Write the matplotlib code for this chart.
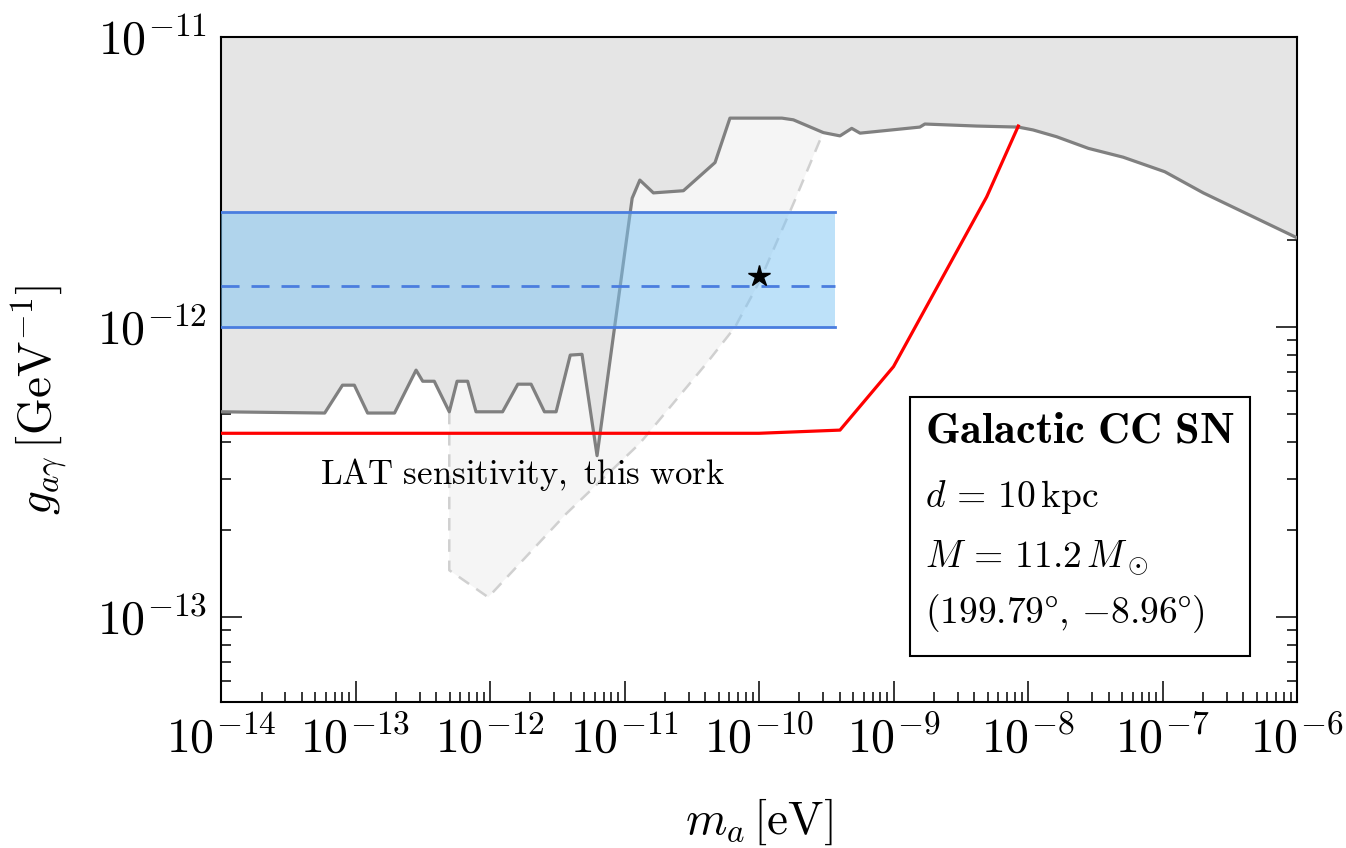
import numpy as np
import matplotlib
matplotlib.use("Agg")
import matplotlib.pyplot as plt
from matplotlib.ticker import LogLocator, NullFormatter

plt.rcParams['mathtext.fontset'] = 'cm'
plt.rcParams['font.family'] = 'serif'
plt.rcParams['font.serif'] = ['cmr10', 'DejaVu Serif']
plt.rcParams['axes.formatter.use_mathtext'] = True

# existing bound (grey region), m_a [eV] vs g_agamma [GeV^-1]
bound_m = [1e-14, 5.9e-14, 8.0e-14, 9.8e-14, 1.23e-13, 1.95e-13, 2.82e-13, 3.16e-13,
           3.85e-13, 4.98e-13, 5.69e-13, 6.82e-13, 7.87e-13, 1.24e-12, 1.61e-12,
           2.02e-12, 2.54e-12, 3.10e-12, 3.95e-12, 4.83e-12, 6.25e-12, 1.14e-11,
           1.30e-11, 1.64e-11, 2.74e-11, 4.71e-11, 6.08e-11, 1.48e-10, 1.80e-10,
           3.01e-10, 4.00e-10, 4.89e-10, 5.64e-10, 1.57e-9, 1.71e-9, 4.16e-9,
           8.47e-9, 1.09e-8, 1.63e-8, 2.81e-8, 5.10e-8, 1.04e-7, 2.01e-7, 1e-6]
bound_g = [5.1e-13, 5.05e-13, 6.3e-13, 6.3e-13, 5.05e-13, 5.05e-13, 7.1e-13, 6.5e-13,
           6.5e-13, 5.1e-13, 6.5e-13, 6.5e-13, 5.1e-13, 5.1e-13, 6.35e-13,
           6.35e-13, 5.1e-13, 5.1e-13, 8.0e-13, 8.05e-13, 3.6e-13, 2.78e-12,
           3.21e-12, 2.9e-12, 2.95e-12, 3.69e-12, 5.25e-12, 5.25e-12, 5.18e-12,
           4.68e-12, 4.56e-12, 4.84e-12, 4.66e-12, 4.89e-12, 5.01e-12, 4.93e-12,
           4.89e-12, 4.78e-12, 4.53e-12, 4.13e-12, 3.85e-12, 3.43e-12, 2.9e-12, 2.03e-12]

# LAT sensitivity, this work (light grey dashed region)
lat_m = [4.98e-13, 4.98e-13, 9.7e-13, 3.72e-12, 1.30e-11, 4.08e-11, 6.64e-11,
         1.02e-10, 1.85e-10, 2.99e-10]
lat_g = [5.1e-13, 1.45e-13, 1.17e-13, 2.28e-13, 3.97e-13, 7.5e-13, 1.0e-12,
         1.45e-12, 2.74e-12, 4.67e-12]

# SN sensitivity (red)
sn_m = [1e-14, 1e-10, 4.0e-10, 1e-9, 4.93e-9, 8.47e-9]
sn_g = [4.3e-13, 4.3e-13, 4.41e-13, 7.3e-13, 2.81e-12, 4.93e-12]

# preferred band
band_m = [1e-14, 3.67e-10]
band_lo, band_mid, band_hi = 1.0e-12, 1.38e-12, 2.5e-12

star_m, star_g = 1e-10, 1.5e-12

xmin, xmax = 1e-14, 1e-6
ymin, ymax = 10**-13.293, 1e-11

fig = plt.figure(figsize=(13.46, 8.48), dpi=100)
ax = fig.add_axes([0.1642, 0.1722, 0.7994, 0.7842])

ax.fill(lat_m + [lat_m[-1], lat_m[0]], lat_g + [ymax, ymax], color='#f5f5f5', lw=0, zorder=1)
ax.plot(lat_m, lat_g, color='#d0d0d0', lw=1.8, ls=(0, (5, 3.5)), zorder=1.5)

ax.fill_between(bound_m, bound_g, ymax, color='#e5e5e5', lw=0, zorder=2)
ax.plot(bound_m, bound_g, color='#808080', lw=2.3, zorder=3)

ax.fill_between(band_m, band_lo, band_hi, color='#7cc4f4', alpha=0.5, lw=0, zorder=4)
bc = '#4a7ddf'
ax.plot(band_m, [band_lo, band_lo], color=bc, lw=2, zorder=5)
ax.plot(band_m, [band_hi, band_hi], color=bc, lw=2, zorder=5)
ax.plot(band_m, [band_mid, band_mid], color=bc, lw=2, ls=(0, (6.5, 4.3)), zorder=5)

ax.plot(sn_m, sn_g, color='red', lw=2.3, zorder=6)
ax.plot([star_m], [star_g], marker='*', color='black', ms=16, ls='none', zorder=7)

ax.set_xscale('log')
ax.set_yscale('log')
ax.set_xlim(xmin, xmax)
ax.set_ylim(ymin, ymax)

ax.xaxis.set_major_locator(LogLocator(base=10, numticks=20))
ax.xaxis.set_minor_locator(LogLocator(base=10, subs=np.arange(2, 10), numticks=20))
ax.xaxis.set_minor_formatter(NullFormatter())
ax.yaxis.set_major_locator(LogLocator(base=10, numticks=20))
ax.yaxis.set_minor_locator(LogLocator(base=10, subs=np.arange(2, 10), numticks=20))
ax.yaxis.set_minor_formatter(NullFormatter())

ax.tick_params(which='both', direction='in', top=True, right=True, width=1.1)
ax.tick_params(which='major', length=15, labelsize=34.5, pad=10)
ax.tick_params(which='minor', length=7.5)
for s in ax.spines.values():
    s.set_linewidth(1.5)

ax.set_xlabel(r'$m_a\,[\mathrm{eV}]$', fontsize=34)
ax.set_ylabel(r'$g_{a\gamma}\,[\mathrm{GeV}^{-1}]$', fontsize=34)
ax.xaxis.set_label_coords(0.5, -0.142)
ax.yaxis.set_label_coords(-0.140, 0.454)

ax.text(0.092, 0.328, r'$\mathrm{LAT\ sensitivity,\ this\ work}$', transform=ax.transAxes,
        fontsize=25, va='baseline', ha='left', zorder=8)

# info box
box = plt.Rectangle((0.6403, 0.0692), 0.316, 0.3894, transform=ax.transAxes,
                    facecolor='white', edgecolor='black', lw=1.5, zorder=9)
ax.add_patch(box)
lines = [r'$\mathbf{Galactic\ CC\ SN}$', r'$d\,=\,10\,\mathrm{kpc}$',
         r'$M\,=\,11.2\,M_\odot$', r'$(199.79\degree,\,{-}8.96\degree)$']
sizes = [32, 27, 27, 27]
for txt, yy, fs in zip(lines, [0.3895, 0.2932, 0.2030, 0.1188], sizes):
    ax.text(0.6543, yy, txt, transform=ax.transAxes, fontsize=fs,
            va='baseline', ha='left', zorder=10)

fig.savefig('out.png', dpi=100)
